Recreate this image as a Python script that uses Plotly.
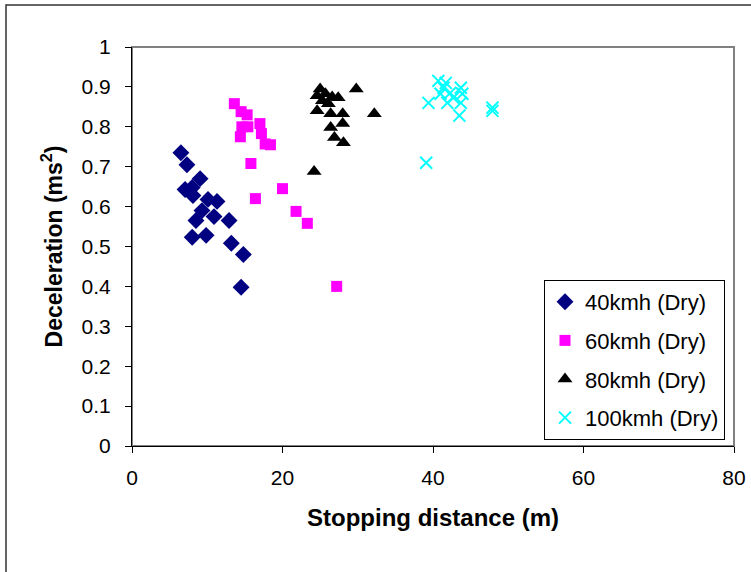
import plotly.graph_objects as go

# 40 km/h (Dry)
x40 = [6.5, 7.3, 9.05, 7.05, 8.0, 8.1, 10.1, 11.3, 9.3, 8.5, 10.9, 12.9, 8.0, 9.85, 13.2, 14.8, 14.5]
y40 = [0.735, 0.705, 0.67, 0.643, 0.648, 0.628, 0.618, 0.613, 0.59, 0.565, 0.575, 0.565, 0.523, 0.528, 0.508, 0.48, 0.398]

# 60 km/h (Dry)
x60 = [13.6, 14.5, 15.3, 14.6, 15.4, 17.0, 14.4, 17.2, 18.4, 17.7, 15.8, 20.0, 16.4, 21.8, 23.3, 27.2]
y60 = [0.858, 0.838, 0.83, 0.80, 0.80, 0.808, 0.775, 0.783, 0.755, 0.757, 0.708, 0.645, 0.62, 0.588, 0.558, 0.40]

# 80 km/h (Dry)
x80 = [25.0, 29.8, 24.6, 25.7, 26.6, 27.4, 26.1, 25.3, 24.6, 26.4, 28.0, 32.2, 26.4, 28.0, 26.9, 28.1, 24.2]
y80 = [0.895, 0.895, 0.878, 0.883, 0.875, 0.873, 0.858, 0.865, 0.84, 0.833, 0.833, 0.833, 0.798, 0.808, 0.773, 0.76, 0.688]

# 100 km/h (Dry)
x100 = [40.7, 41.7, 43.7, 41.4, 42.3, 41.0, 42.7, 43.9, 39.4, 41.9, 43.7, 43.5, 47.9, 47.9, 39.1]
y100 = [0.915, 0.91, 0.898, 0.898, 0.885, 0.883, 0.873, 0.883, 0.86, 0.86, 0.86, 0.828, 0.848, 0.84, 0.71]

series_names = ["40kmh (Dry)", "60kmh (Dry)", "80kmh (Dry)", "100kmh (Dry)"]
x_ticks = [0, 20, 40, 60, 80]
y_ticks = [0, 0.1, 0.2, 0.3, 0.4, 0.5, 0.6, 0.7, 0.8, 0.9, 1]
y_ticklabels = ["0", "0.1", "0.2", "0.3", "0.4", "0.5", "0.6", "0.7", "0.8", "0.9", "1"]

FONT = "Liberation Sans, Arial, sans-serif"

fig = go.Figure()
fig.add_trace(go.Scatter(x=x40, y=y40, mode="markers", name=series_names[0], legendgroup="a",
                         marker=dict(symbol="diamond", size=13, color="#000080")))
fig.add_trace(go.Scatter(x=x60, y=y60, mode="markers", name=series_names[1], legendgroup="b",
                         marker=dict(symbol="square", size=11, color="#FF00FF")))
fig.add_trace(go.Scatter(x=x80, y=y80, mode="markers", name=series_names[2], legendgroup="c",
                         marker=dict(symbol="triangle-up", size=13, color="#000000")))
fig.add_trace(go.Scatter(x=x100, y=y100, mode="markers", name=series_names[3], legendgroup="d",
                         marker=dict(symbol="x-thin-open", size=12, color="#00FFFF",
                                     line=dict(width=2, color="#00FFFF"))))

fig.update_layout(
    width=751, height=572,
    margin=dict(l=132, r=17, t=47, b=126, autoexpand=False),
    paper_bgcolor="white", plot_bgcolor="white",
    font=dict(family=FONT, size=21, color="black"),
    showlegend=True,
    legend=dict(x=(544 - 132) / 602, y=(446 - 280) / 399, xanchor="left", yanchor="top",
                bordercolor="black", borderwidth=1, bgcolor="white",
                font=dict(family=FONT, size=22, color="black"),
                tracegroupgap=7, traceorder="grouped"),
    xaxis=dict(range=[0, 80], tickvals=x_ticks, showgrid=False, zeroline=False,
               showline=True, linecolor="black", linewidth=1,
               ticks="outside", ticklen=6, tickcolor="black",
               tickfont=dict(size=21), ticklabelstandoff=7,
               title=dict(text="<b>Stopping distance (m)</b>", font=dict(size=24), standoff=20)),
    yaxis=dict(range=[0, 1], tickvals=y_ticks, ticktext=y_ticklabels, showgrid=False, zeroline=False,
               showline=True, linecolor="black", linewidth=1,
               ticks="outside", ticklen=6, tickcolor="black",
               tickfont=dict(size=21), ticklabelstandoff=10,
               title=dict(text="<b>Deceleration (ms<sup>2</sup>)</b>", font=dict(size=23), standoff=12)),
    shapes=[
        dict(type="rect", xref="paper", yref="paper", x0=0, y0=0, x1=1, y1=1,
             line=dict(color="#808080", width=2), layer="below"),
        dict(type="rect", xref="paper", yref="paper", x0=(6 - 132) / 602, y0=-0.5,
             x1=1.2, y1=(446 - 5) / 399, line=dict(color="#333333", width=1.5), layer="below"),
    ],
)

fig.write_html("out.html")
